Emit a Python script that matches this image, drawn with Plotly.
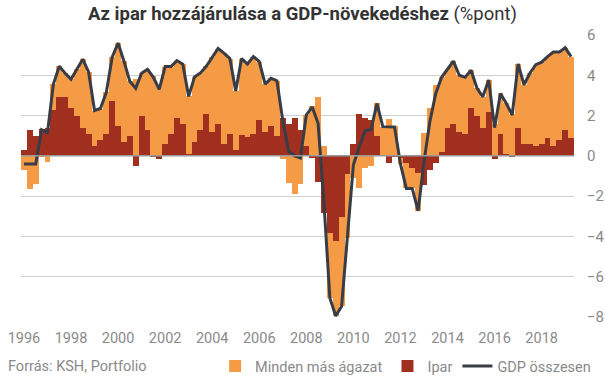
import plotly.graph_objects as go

# Quarterly data, 1996 Q1 - 2019 Q2 (percentage points)
quarters = [f"{y}Q{q}" for y in range(1996, 2020) for q in range(1, 5)][:94]

ipar = [0.3, 1.3, 1.0, 1.35, 1.4, 2.3, 2.9, 2.9, 2.4, 2.0,
        1.4, 1.1, 0.5, 0.8, 1.1, 2.7, 1.5, 0.7, 1.0, -0.48,
        2.0, 1.3, -0.08, -0.18, 0.6, 1.1, 1.9, 1.6, 0.1, 0.7,
        1.3, 2.1, 1.2, 1.6, 0.6, 1.1, 0.3, 1.05, 0.95, 1.1,
        1.8, 1.2, 1.5, 1.0, 1.9, 1.6, 1.9, 1.3, 0.5, -0.1,
        -1.28, -2.85, -3.85, -4.22, -3.05, -0.9, 0.6, 2.1, 1.9, 1.8,
        1.0, 0.0, -0.37, -0.05, -0.1, -0.35, -0.6, -0.87, -1.45, -0.7,
        -0.37, 0.2, 1.4, 1.6, 1.2, 1.1, 2.4, 2.0, 1.4, 2.2,
        -0.18, 1.1, 0.1, -0.07, 1.4, 0.6, 0.6, 0.5, 0.6, 0.9,
        0.5, 0.8, 1.3, 0.9]

minden_mas = [-0.7, -1.65, -1.38, -0.05, -0.28, 1.25, 1.55, 1.2, 1.4, 2.3,
              3.4, 3.05, 1.75, 1.55, 2.05, 2.2, 4.1, 4.0, 2.7, 3.83,
              2.1, 3.0, 3.98, 3.48, 3.83, 3.33, 2.83, 2.95, 2.85, 3.22,
              2.82, 2.35, 3.7, 3.73, 4.5, 3.73, 2.92, 3.78, 3.61, 3.83,
              2.88, 2.36, 2.35, 2.73, -0.15, -1.37, -1.9, -1.4, 1.53, 2.5,
              2.9, 0.5, -3.2, -3.73, -4.42, -3.2, -1.1, -1.6, -0.6, -0.5,
              1.6, 1.45, 1.82, 1.48, -0.3, -1.27, -1.0, -1.86, 1.15, 2.4,
              3.5, 3.7, 2.9, 3.1, 2.8, 2.8, 1.85, 1.37, 1.53, 1.57,
              1.58, 2.0, 2.5, 2.1, 3.17, 2.93, 3.5, 4.03, 4.05, 4.03,
              4.65, 4.35, 4.07, 4.03]

gdp = [-0.4, -0.4, -0.4, 1.3, 1.15, 3.55, 4.45, 4.1, 3.8, 4.3,
       4.8, 4.15, 2.25, 2.35, 3.15, 4.9, 5.6, 4.7, 3.7, 3.35,
       4.1, 4.3, 3.9, 3.3, 4.43, 4.43, 4.73, 4.55, 2.95, 3.92,
       4.12, 4.45, 4.9, 5.33, 5.1, 4.83, 3.22, 4.83, 4.56, 4.93,
       4.68, 3.56, 3.85, 3.73, 1.75, 0.23, 0.0, -0.1, 2.03, 2.43,
       1.62, -2.35, -7.05, -7.95, -7.47, -4.1, -0.45, 0.45, 1.25, 1.3,
       2.6, 1.45, 1.45, 1.43, -0.4, -1.62, -1.62, -2.73, -0.3, 1.7,
       3.1, 3.9, 4.3, 4.7, 4.0, 3.9, 4.25, 3.37, 2.93, 3.77,
       1.4, 3.1, 2.6, 2.03, 4.57, 3.53, 4.1, 4.53, 4.65, 4.93,
       5.15, 5.15, 5.37, 4.93]

year_ticks = list(range(1996, 2019, 2))
y_ticks = [-8, -6, -4, -2, 0, 2, 4, 6]

x = list(range(len(quarters)))
tick_pos = [(y - 1996) * 4 for y in year_ticks]

ORANGE = "#F69B45"
RED = "#A02F20"
LINE = "#373C46"
GREY = "#8a8a8a"
FONT = "Roboto"

fig = go.Figure()
fig.add_trace(go.Bar(x=x, y=ipar, name="Ipar", marker=dict(color=RED, line=dict(width=0)),
                     legendrank=2))
fig.add_trace(go.Bar(x=x, y=minden_mas, name="Minden más ágazat",
                     marker=dict(color=ORANGE, line=dict(width=0)), legendrank=1))
fig.add_trace(go.Scatter(x=x, y=gdp, name="GDP összesen", mode="lines",
                         line=dict(color=LINE, width=3), legendrank=3))

fig.add_shape(type="line", xref="paper", x0=0, x1=1, yref="y", y0=0, y1=0,
              line=dict(color="#999999", width=1.5), layer="above")

fig.update_layout(
    width=605, height=378,
    margin=dict(l=21, r=31, t=35, b=61, autoexpand=False),
    paper_bgcolor="white", plot_bgcolor="white",
    barmode="relative", bargap=0,
    font=dict(family=FONT, size=14, color=GREY),
    title=dict(text="<b>Az ipar hozzájárulása a GDP-növekedéshez</b> (%pont)",
               x=0.5, xanchor="center", xref="container", y=0.963, yanchor="middle",
               yref="container",
               font=dict(family=FONT, size=18.5, color="#333333")),
    xaxis=dict(range=[-0.5, len(x) - 0.5], tickvals=tick_pos,
               ticktext=[str(y) for y in year_ticks], showgrid=False,
               zeroline=False, showline=False, ticks="",
               ticklabelstandoff=10,
               tickfont=dict(size=14.5, color=GREY)),
    yaxis=dict(range=[-8, 6], side="right", tickvals=y_ticks,
               showgrid=True, gridcolor="#d0d0d0", gridwidth=1,
               zeroline=False, showline=False, ticks="",
               ticklabelstandoff=12,
               tickfont=dict(size=15, color=GREY)),
    legend=dict(orientation="h", x=1.04, xanchor="right", y=-0.174, yanchor="middle",
                font=dict(size=14.5, color=GREY), traceorder="normal",
                itemwidth=30, bgcolor="rgba(0,0,0,0)"),
    showlegend=True,
)

fig.add_annotation(text="Forrás: KSH, Portfolio", xref="paper", yref="paper",
                   x=-0.028, y=-0.174, xanchor="left", yanchor="middle",
                   showarrow=False, font=dict(size=14.5, color=GREY))

fig.write_html("out.html", config={"displayModeBar": False},
               post_script="document.body.style.margin='0';")
